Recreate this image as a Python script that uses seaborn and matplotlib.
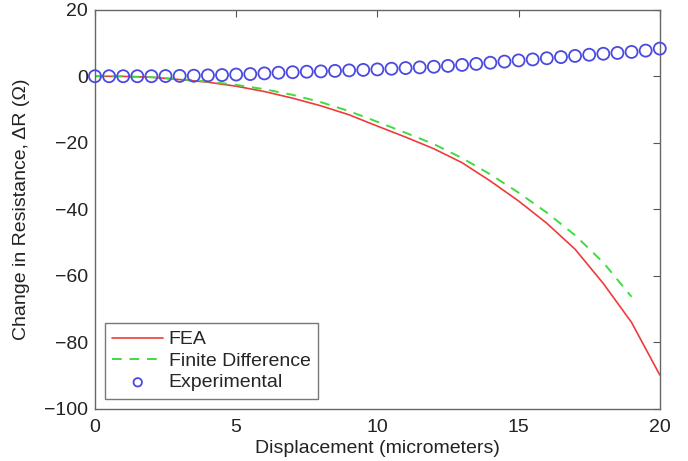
import numpy as np
import pandas as pd
import matplotlib
matplotlib.use("Agg")
import matplotlib.pyplot as plt
import seaborn as sns

# Displacement grid for the simulations (micrometers)
disp_sim = list(range(0, 21))
fea = [0.0, -0.05, -0.3, -1.0, -1.8, -3.0, -4.6, -6.6, -8.9, -11.6, -15.0,
       -18.3, -21.8, -26.0, -31.5, -37.5, -44.2, -52.0, -62.3, -74.0, -89.8]
disp_fd = list(range(0, 20))
finite_diff = [0.0, -0.05, -0.3, -0.9, -1.6, -2.6, -3.9, -5.6, -7.8, -10.5, -13.7,
               -17.0, -20.4, -24.6, -29.5, -35.0, -41.0, -47.8, -56.0, -66.3]

# Measured data, every 0.5 micrometer
disp_exp = [i * 0.5 for i in range(41)]
experimental = [0.0, 0.0, 0.0, 0.0, 0.0, 0.05, 0.1, 0.15, 0.25, 0.35, 0.5,
                0.65, 0.85, 1.05, 1.2, 1.35, 1.45, 1.6, 1.75, 1.9, 2.05,
                2.25, 2.45, 2.65, 2.85, 3.1, 3.4, 3.7, 4.05, 4.4, 4.75,
                5.05, 5.4, 5.75, 6.1, 6.45, 6.75, 7.0, 7.3, 7.7, 8.3]

x_ticks = [0, 5, 10, 15, 20]
y_ticks = [-100, -80, -60, -40, -20, 0, 20]

sns.set_style("white")
plt.rcParams["font.family"] = ["Liberation Sans", "DejaVu Sans"]

df_fea = pd.DataFrame({"x": disp_sim, "y": fea})
df_fd = pd.DataFrame({"x": disp_fd, "y": finite_diff})
df_exp = pd.DataFrame({"x": disp_exp, "y": experimental})

fig = plt.figure(figsize=(6.88, 4.61), dpi=100)
ax = fig.add_axes([0.138, 0.113, 0.821, 0.866])

red = "#ee3b3b"
green = "#3fdc3f"
blue = "#4a4ae0"
fs = 14

sns.lineplot(data=df_fea, x="x", y="y", ax=ax, color=red, linewidth=1.2,
             label="FEA")
sns.lineplot(data=df_fd, x="x", y="y", ax=ax, color=green, linewidth=1.4,
             linestyle=(0, (5, 4)), label="Finite Difference")
sns.scatterplot(data=df_exp, x="x", y="y", ax=ax, marker="o", s=75,
                facecolors="none", edgecolor=blue, linewidth=1.3,
                label="Experimental", zorder=3, clip_on=False)

ax.set_xlim(0, 20)
ax.set_ylim(-100, 20)
ax.set_xticks(x_ticks)
ax.set_yticks(y_ticks)
ax.set_xlabel("Displacement (micrometers)", fontsize=fs, color="#222222",
              labelpad=3)
ax.set_ylabel("Change in Resistance, \u0394R (\u03a9)", fontsize=fs,
              color="#222222", labelpad=10)

ax.tick_params(direction="in", length=5, width=0.8, colors="#555555",
               labelcolor="#222222", labelsize=fs, top=True, right=True)
ax.tick_params(axis="x", pad=7)
ax.tick_params(axis="y", pad=5)
for sp in ax.spines.values():
    sp.set_visible(True)
    sp.set_color("#666666")
    sp.set_linewidth(1.0)

leg = ax.legend(loc="lower left", fontsize=fs, frameon=True, fancybox=False,
                edgecolor="#555555", borderpad=0.4, handlelength=2.6,
                handletextpad=0.3, labelspacing=0.2, borderaxespad=0.5,
                scatterpoints=1, markerscale=0.7)
leg.get_frame().set_linewidth(1.0)

fig.savefig("out.png", dpi=100)
